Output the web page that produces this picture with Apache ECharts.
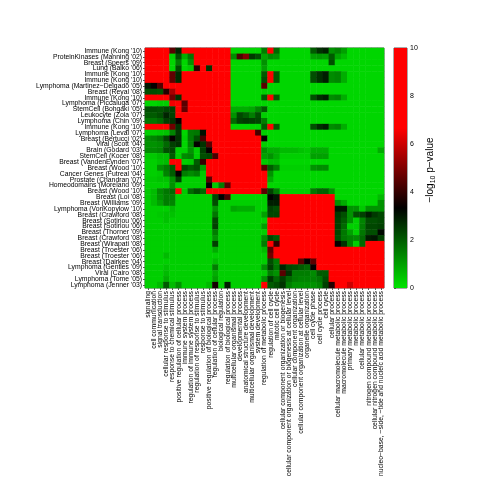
<!DOCTYPE html>
<html>
<head>
<meta charset="utf-8">
<script src="https://cdn.jsdelivr.net/npm/echarts@6/dist/echarts.min.js"></script>
<style>
html, body { margin: 0; padding: 0; background: #fff; }
#chart { width: 480px; height: 481px; }
</style>
</head>
<body>
<div id="chart"></div>
<script>
// gene set studies (rows, top to bottom)
var rowLabels = [
  "Immune (Kong '10)", "ProteinKinases (Manning '02)", "Breast (Speers '09)", "Lung (Balko '06)",
  "Immune (Kong '10)", "Immune (Kong '10)", "Lymphoma (Martinez\u2212Delgado '05)", "Breast (Reyal '08)",
  "Immune (Kong '10)", "Lymphoma (Piccaluga '07)", "StemCell (Bohgaki '05)", "Leukocyte (Zola '07)",
  "Lymphoma (Chin '09)", "Immune (Kong '10)", "Lymphoma (Leval '07)", "Breast (Bertucci '02)",
  "Viral (Scott '04)", "Brain (Godard '03)", "StemCell (Kocer '08)", "Breast (VandenEynden '07)",
  "Breast (Wood '10)", "Cancer Genes (Futreal '04)", "Prostate (Chandran '07)", "Homeodomains (Moreland '09)",
  "Breast (Wood '10)", "Breast (Loi '08)", "Breast (Williams '09)", "Lymphoma (VonKopylow '10)",
  "Breast (Crawford '08)", "Breast (Sotiriou '06)", "Breast (Sotiriou '06)", "Breast (Thorner '09)",
  "Breast (Crawford '08)", "Breast (Wirapati '08)", "Breast (Troester '06)", "Breast (Troester '06)",
  "Breast (Dairkee '04)", "Lymphoma (Gentles '09)", "Viral (Cairo '08)", "Lymphoma (Tome '05)",
  "Lymphoma (Jenner '03)"
];

// GO terms (columns, left to right)
var colLabels = [
  "signaling", "cell communication", "signal transduction", "cellular response to stimulus",
  "response to chemical stimulus", "positive regulation of cellular process", "immune system process",
  "regulation of immune system process", "regulation of response to stimulus", "response to stimulus",
  "positive regulation of biological process", "regulation of cellular process", "biological regulation",
  "regulation of biological process", "multicellular organismal process", "developmental process",
  "anatomical structure development", "multicellular organismal development", "system development",
  "regulation of metabolic process", "regulation of cell cycle", "mitotic cell cycle",
  "cellular component organization or biogenesis",
  "cellular component organization or biogenesis at cellular level",
  "cellular component organization", "cellular component organization at cellular level",
  "organelle organization", "cell cycle phase", "cell cycle process", "cell cycle", "cellular process",
  "cellular macromolecule metabolic process", "macromolecule metabolic process",
  "primary metabolic process", "metabolic process", "cellular metabolic process",
  "nitrogen compound metabolic process", "cellular nitrogen compound metabolic process",
  "nucleo\u2212base, \u2212side, \u2212tide and nucleic acid metabolic process"
];

// -log10 p-value, one row per study
var logp = [
  [9,9,9,9,4.5,2.8,9,9,9,9,9,9,9,9,0.2,0.2,0.2,0.2,0.2,1.5,9,1.8,0.2,0.2,0.2,0.2,0.2,2.0,2.6,2.8,1.2,1.4,1.0,0.2,0.2,0.2,0.2,0.2,0.2],
  [9,9,9,9,0.3,2.2,0.8,1.6,9,9,9,9,9,9,1.3,4.3,5.0,2.5,2.2,0.9,1.3,1.2,0.2,0.2,0.2,0.2,0.2,1.0,1.1,1.0,2.0,0.9,0.6,0.2,0.2,0.2,0.2,0.2,0.2],
  [9,9,9,9,0.2,1.5,0.2,1.2,9,9,9,9,9,9,0.2,0.2,0.2,0.2,0.2,1.2,0.2,0.2,0.2,0.2,0.2,0.2,0.2,0.2,0.2,0.2,2.2,0.2,0.2,0.2,0.2,0.2,0.2,0.2,0.2],
  [9,9,9,9,0.2,2.2,0.2,0.4,3.9,9,2.6,9,9,9,0.2,0.2,0.2,0.2,0.2,1.0,0.2,0.2,0.2,0.2,0.2,0.2,0.2,0.2,0.2,0.2,0.2,0.2,0.2,0.2,0.2,0.2,0.2,0.2,0.2],
  [9,9,9,9,4.6,2.7,9,9,9,9,9,9,9,9,0.2,0.2,0.2,0.2,0.2,2.0,9,2.0,0.2,0.2,0.2,0.2,0.2,2.2,2.6,2.9,1.3,1.4,0.8,0.2,0.2,0.2,0.2,0.2,0.2],
  [9,9,9,9,4.6,2.7,9,9,9,9,9,9,9,9,0.2,0.2,0.2,0.2,0.2,2.2,9,2.0,0.2,0.2,0.2,0.2,0.2,2.2,2.6,2.9,1.3,1.4,0.8,0.2,0.2,0.2,0.2,0.2,0.2],
  [3.0,3.4,4.4,9,9,9,9,9,9,9,9,9,9,9,0.2,0.2,0.2,0.2,0.2,4.5,0.2,0.2,0.2,0.2,0.2,0.2,0.2,0.2,0.2,0.2,0.2,0.2,0.2,0.2,0.2,0.2,0.2,0.2,0.2],
  [2.2,2.2,2.1,3.8,5.5,9,9,9,9,9,9,9,9,9,0.2,0.2,0.2,0.2,0.2,0.3,0.2,0.2,0.2,0.2,0.2,0.2,0.2,0.2,0.2,0.2,0.2,0.2,0.2,0.2,0.2,0.2,0.2,0.2,0.2],
  [9,9,9,9,4.8,2.6,9,9,9,9,9,9,9,9,0.2,0.2,0.2,0.2,0.2,2.0,9,2.0,0.2,0.2,0.2,0.2,0.2,2.2,2.7,2.9,1.3,1.4,0.8,0.2,0.2,0.2,0.2,0.2,0.2],
  [0.2,0.2,0.3,0.3,6.5,9,4.5,9,9,9,9,9,9,9,0.2,0.2,0.2,0.2,0.2,0.2,0.2,0.2,0.2,0.2,0.2,0.2,0.2,0.2,0.2,0.2,0.2,0.2,0.2,0.2,0.2,0.2,0.2,0.2,0.2],
  [2.2,2.2,2.1,2.3,2.4,9,4.6,9,9,9,9,9,9,9,0.8,0.8,0.8,0.9,1.4,2.0,0.2,0.2,0.2,0.2,0.2,0.2,0.2,0.2,0.2,0.2,0.2,0.2,0.2,0.2,0.2,0.2,0.2,0.2,0.2],
  [2.0,2.0,2.2,2.8,2.4,9,9,9,9,9,9,9,9,9,1.2,2.3,2.0,1.5,2.2,0.3,0.2,0.2,0.2,0.2,0.2,0.2,0.2,0.2,0.2,0.2,0.2,0.2,0.2,0.2,0.2,0.2,0.2,0.2,0.2],
  [1.6,1.6,1.8,2.4,2.6,3.4,9,9,9,9,9,9,9,9,1.8,2.4,2.5,2.4,2.3,1.5,0.2,0.2,0.2,0.2,0.2,0.2,0.2,0.2,0.2,0.2,0.2,0.2,0.2,0.2,0.2,0.2,0.2,0.2,0.2],
  [9,9,9,9,4.8,2.6,9,9,9,9,9,9,9,9,0.2,0.2,0.2,0.2,0.2,2.0,9,2.0,0.2,0.2,0.2,0.2,0.2,2.2,2.7,2.9,1.3,1.4,0.8,0.2,0.2,0.2,0.2,0.2,0.2],
  [0.3,0.3,0.4,0.5,1.4,2.5,0.2,1.5,1.6,3.1,9,9,9,9,9,9,9,9,4.3,0.3,0.2,0.2,0.2,0.2,0.2,0.2,0.2,0.2,0.2,0.2,0.2,0.2,0.2,0.2,0.2,0.2,0.2,0.2,0.2],
  [1.3,1.4,1.6,2.3,3.4,2.6,0.3,1.5,2.2,4.3,9,9,9,9,9,9,9,9,9,3.4,0.2,0.2,0.2,0.2,0.2,0.2,0.2,0.2,0.2,0.2,0.2,0.2,0.2,0.2,0.2,0.2,0.2,0.2,0.2],
  [1.2,1.2,1.3,1.8,2.4,2.6,0.2,1.4,3.4,2.6,4.5,9,9,9,9,9,9,9,9,0.3,0.2,0.2,0.2,0.2,0.2,0.2,0.2,0.2,0.2,0.2,0.2,0.2,0.2,0.2,0.2,0.2,0.2,0.2,0.2],
  [1.3,1.3,1.4,2.2,2.3,0.3,0.3,1.2,0.3,2.4,3.4,9,9,9,9,9,9,9,9,1.2,0.8,0.8,0.6,0.6,0.6,0.5,0.4,0.8,0.8,0.8,0.2,0.2,0.2,0.2,0.2,0.2,0.2,0.2,0.8],
  [0.4,0.4,0.6,0.6,2.0,0.3,1.3,1.4,0.3,2.2,2.3,4.3,9,9,9,9,9,9,9,1.0,1.2,0.8,0.3,0.3,0.3,0.3,0.3,1.0,1.0,1.0,0.2,0.2,0.2,0.2,0.2,0.2,0.2,0.2,0.2],
  [0.3,0.3,0.5,0.6,7.0,9,0.3,0.4,2.0,4.0,9,9,9,9,9,9,9,9,9,0.4,0.6,0.6,0.2,0.2,0.2,0.2,0.2,0.2,0.2,0.2,0.2,0.2,0.2,0.2,0.2,0.2,0.2,0.2,0.2],
  [0.3,0.3,1.2,1.5,2.0,9,2.3,2.0,2.2,1.0,9,9,9,9,9,9,9,9,9,4.5,2.0,1.5,0.3,0.3,0.3,0.3,0.3,1.2,1.3,1.3,0.2,0.2,0.2,0.2,0.2,0.2,0.2,0.2,0.2],
  [0.3,0.3,0.4,1.4,2.0,3.4,1.5,1.3,1.5,0.4,9,9,9,9,9,9,9,9,9,9,1.2,0.2,0.2,0.2,0.2,0.2,0.2,0.2,0.2,0.2,0.2,0.2,0.2,0.2,0.2,0.2,0.2,0.2,0.2],
  [0.4,0.4,0.5,0.5,1.2,2.4,0.3,0.3,0.3,0.3,4.5,9,9,9,9,9,9,9,9,9,0.8,0.2,0.2,0.2,0.2,0.2,0.2,0.2,0.2,0.2,0.2,0.2,0.2,0.2,0.2,0.2,0.2,0.2,0.2],
  [0.3,0.3,0.3,0.3,1.2,0.3,0.3,0.3,0.3,0.3,3.4,0.4,1.5,4.5,9,9,9,9,9,9,0.2,0.2,0.2,0.2,0.2,0.2,0.2,0.2,0.2,0.2,0.2,0.2,0.2,0.2,0.2,0.2,0.2,0.2,0.2],
  [0.4,0.6,1.3,1.6,1.8,9,0.4,1.8,2.2,1.8,9,9,9,9,9,9,9,9,9,4.5,2.4,1.6,0.3,0.3,0.3,0.3,0.3,1.6,1.9,1.9,1.2,0.2,0.2,0.2,0.2,0.2,0.2,0.2,0.2],
  [0.4,0.6,1.2,1.5,1.5,0.3,0.3,0.3,0.3,0.3,0.3,2.3,3.3,4.3,0.2,0.2,0.2,0.2,0.2,0.3,3.3,3.0,9,9,9,9,9,9,9,9,9,0.2,0.2,0.2,0.2,0.2,0.2,0.2,0.6],
  [0.3,0.6,1.0,1.5,1.4,0.3,0.3,0.3,0.3,0.3,0.3,2.2,0.3,0.3,0.3,0.3,0.3,0.3,0.3,0.3,2.9,2.9,9,9,9,9,9,9,9,9,9,1.2,0.8,0.2,0.2,0.2,0.2,0.2,1.2],
  [0.3,0.3,0.3,0.3,0.6,0.3,0.3,0.3,0.3,0.3,0.3,1.2,0.3,0.3,0.9,0.8,0.8,0.8,0.3,0.3,2.4,2.2,9,9,9,9,9,9,9,9,9,3.0,3.0,1.2,1.2,0.4,1.2,1.2,1.2],
  [0.3,0.3,0.4,0.5,0.5,0.3,0.3,0.3,0.3,0.3,0.3,1.6,0.3,0.3,0.3,0.3,0.3,0.3,0.3,1.0,2.3,2.3,9,9,9,9,9,9,9,9,9,2.5,2.2,1.2,2.2,2.4,2.9,2.5,2.3],
  [0.3,0.3,0.3,0.5,0.3,0.3,0.3,0.3,0.3,0.3,0.3,2.3,0.3,0.3,0.3,0.3,0.3,0.3,0.3,0.3,9,9,9,9,9,9,9,9,9,9,9,2.4,2.0,1.2,0.3,1.4,2.2,2.2,2.3],
  [0.3,0.3,0.3,0.3,0.3,0.3,0.3,0.3,0.3,0.3,0.3,2.4,0.3,0.3,0.3,0.3,0.3,0.3,0.3,1.0,9,9,9,9,9,9,9,9,9,9,9,2.4,1.8,0.3,0.3,1.5,2.3,2.3,2.4],
  [0.3,0.3,0.3,0.3,0.3,0.3,0.3,0.3,0.3,0.3,0.3,1.5,0.3,0.3,0.3,0.3,0.3,0.3,0.3,0.3,9,9,9,9,9,9,9,9,9,9,9,2.3,1.6,1.0,0.3,1.6,2.2,2.2,3.2],
  [0.3,0.3,0.3,0.3,0.3,0.3,0.3,0.3,0.3,0.3,0.3,1.2,0.3,0.3,0.3,0.3,0.3,0.3,0.3,1.2,2.3,2.0,9,9,9,9,9,9,9,9,9,2.2,1.6,1.4,1.3,1.8,2.9,3.0,2.4],
  [0.3,0.3,0.3,0.3,0.3,0.3,0.3,0.3,0.3,0.3,0.3,2.4,0.3,0.3,0.3,0.3,0.3,0.3,0.3,1.5,9,4.0,9,9,9,9,9,9,9,9,9,3.4,2.6,1.4,0.3,1.8,9,9,9],
  [0.3,0.3,0.3,0.3,0.3,0.3,0.3,0.3,0.3,0.3,0.3,0.8,0.3,0.3,0.3,0.3,0.3,0.3,0.3,0.6,4.5,9,9,9,9,9,9,9,9,9,9,9,9,9,9,9,9,9,9],
  [0.3,0.3,0.3,0.6,0.3,0.3,0.3,0.3,0.3,0.3,0.3,0.3,0.3,0.3,0.3,0.3,0.3,0.3,0.3,0.3,4.8,9,9,9,9,9,9,9,9,9,9,9,9,9,9,9,9,9,9],
  [0.3,0.3,0.3,0.3,0.3,0.3,0.3,0.3,0.3,0.3,0.3,0.6,0.3,0.3,0.3,0.3,0.3,0.3,0.3,0.3,2.2,1.5,9,9,9,4.5,3.4,4.5,9,9,9,9,9,9,9,9,9,9,9],
  [0.3,0.3,0.3,0.5,0.3,0.3,0.3,0.3,0.3,0.3,0.3,1.5,0.3,0.3,0.3,0.3,0.3,0.3,0.3,1.2,2.4,1.6,2.8,2.3,2.2,2.0,1.8,3.4,9,9,9,9,9,9,9,9,9,9,9],
  [0.3,0.3,0.3,0.6,0.3,0.3,0.3,0.3,0.3,0.3,0.3,0.8,0.3,0.3,0.3,0.3,0.3,0.3,0.3,0.4,1.5,1.2,4.5,2.6,1.5,1.5,1.5,1.3,2.0,2.0,9,9,9,9,9,9,9,9,9],
  [0.3,0.3,0.3,0.8,0.3,0.3,0.3,0.3,0.3,0.3,0.3,1.0,0.3,0.3,0.3,0.3,0.3,0.3,0.3,1.2,2.5,1.8,2.4,1.8,1.5,1.4,1.4,1.4,1.6,2.2,9,9,9,9,9,9,9,9,9],
  [0.3,0.3,0.6,2.0,0.6,1.2,0.3,0.3,0.3,0.3,0.6,3.6,0.3,2.9,0.3,0.3,0.3,0.3,0.3,9,2.0,2.2,2.6,1.5,1.2,1.2,1.2,1.2,1.4,2.4,3.8,9,9,6.0,9,9,9,9,9]
];

// colour bar scale
var cbarMin = 0;
var cbarMax = 10;
var cbarStep = 2;

var green = '#00e400';

logp.forEach(function (row, i) {
  if (row.length !== colLabels.length) throw new Error('row ' + i + ' has ' + row.length + ' values');
});

var cells = [];
logp.forEach(function (row, r) {
  row.forEach(function (v, c) {
    cells.push([c, r, v]);
  });
});

var chart = echarts.init(document.getElementById('chart'), null, { renderer: 'canvas' });

var labelFont = 'Liberation Sans, Arial, sans-serif';

var option = {
  animation: false,
  backgroundColor: '#fff',
  textStyle: { fontFamily: labelFont },
  grid: [
    { left: 145, top: 48, width: 239, height: 240, show: true, borderColor: '#555', borderWidth: 1 },
    { left: 394, top: 48, width: 13, height: 240, show: true, borderColor: '#555', borderWidth: 1 }
  ],
  xAxis: [
    {
      type: 'category', gridIndex: 0, data: colLabels, position: 'bottom',
      axisLine: { show: false },
      axisTick: { show: true, alignWithLabel: true, length: 2, lineStyle: { color: '#555' } },
      axisLabel: { interval: 0, rotate: 90, fontSize: 6.8, color: '#000', margin: 3, fontFamily: labelFont },
      splitLine: { show: false }
    },
    { type: 'value', gridIndex: 1, min: 0, max: 1, show: false }
  ],
  yAxis: [
    {
      type: 'category', gridIndex: 0, data: rowLabels, inverse: true,
      axisLine: { show: false },
      axisTick: { show: true, alignWithLabel: true, length: 2, lineStyle: { color: '#555' } },
      axisLabel: { interval: 0, fontSize: 6.8, color: '#000', margin: 3, fontFamily: labelFont },
      splitLine: { show: false }
    },
    {
      type: 'value', gridIndex: 1, min: cbarMin, max: cbarMax, interval: cbarStep, position: 'right',
      axisLine: { show: false },
      axisTick: { show: true, length: 2, lineStyle: { color: '#555' } },
      axisLabel: { fontSize: 7, color: '#000', margin: 3, fontFamily: labelFont },
      splitLine: { show: false }
    }
  ],
  visualMap: {
    type: 'continuous', show: false, seriesIndex: 0,
    min: cbarMin, max: cbarMax,
    inRange: { color: [green, '#000000', '#ff0000', '#ff0000'] }
  },
  series: [
    {
      type: 'heatmap', xAxisIndex: 0, yAxisIndex: 0,
      data: cells, progressive: 0, silent: true
    },
    {
      // colour bar drawn on its own value axis
      type: 'custom', xAxisIndex: 1, yAxisIndex: 1, silent: true,
      data: [[0, cbarMin]],
      renderItem: function (params, api) {
        var p0 = api.coord([0, cbarMin]);
        var p1 = api.coord([1, cbarMax]);
        return {
          type: 'rect',
          shape: { x: p0[0], y: p1[1], width: p1[0] - p0[0], height: p0[1] - p1[1] },
          style: {
            fill: new echarts.graphic.LinearGradient(0, 1, 0, 0, [
              { offset: 0, color: green },
              { offset: 1 / 3, color: '#000000' },
              { offset: 2 / 3, color: '#ff0000' },
              { offset: 1, color: '#ff0000' }
            ])
          }
        };
      }
    }
  ],
  graphic: [
    {
      type: 'text', x: 430, y: 170, rotation: Math.PI / 2,
      style: {
        text: '{a|\u2212log}{s|10}{a| p\u2212value}',
        align: 'center', verticalAlign: 'middle', fill: '#000',
        rich: {
          a: { fontSize: 10, fontFamily: labelFont, lineHeight: 14 },
          s: { fontSize: 7, fontFamily: labelFont, lineHeight: 14, verticalAlign: 'bottom', padding: [4, 0, 0, 0] }
        }
      }
    }
  ]
};

chart.setOption(option);
</script>
</body>
</html>
